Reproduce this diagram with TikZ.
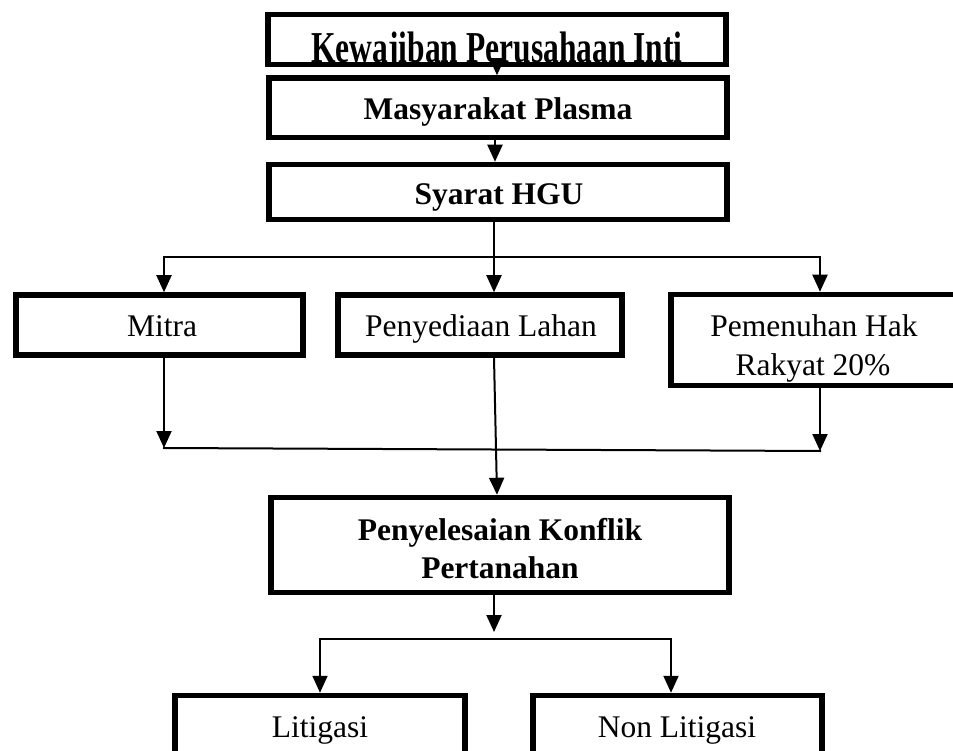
\documentclass[tikz,border=0pt]{standalone}
\usepackage{graphicx}
\usepackage{fontspec}
\setmainfont{Liberation Serif}
\usetikzlibrary{arrows.meta}
\begin{document}
\begin{tikzpicture}[x=1pt,y=-1pt,
  box/.style={draw,line width=5.5pt,inner sep=0pt},
  txt/.style={font=\fontsize{31.5}{38}\selectfont,inner sep=0pt,anchor=base},
  btxt/.style={font=\fontsize{31.5}{38}\selectfont\bfseries,inner sep=0pt,anchor=base},
  ln/.style={line width=2pt,line cap=rect},
  arr/.style={line width=2pt,-{Triangle[width=15pt,length=17pt]}}]
\useasboundingbox (0,0) rectangle (953,751);
\clip (0,0) rectangle (953,751);
% top box with clipped, stretched text
\begin{scope}
  \clip (268,14.5) rectangle (726,64.5);
  \node[btxt] (kt) at (497,63) {\scalebox{1}[1.4]{Kewajiban Perusahaan Inti}};
\end{scope}
\node[box,minimum width=458,minimum height=50] (k) at (497,39.5) {};
\node[box,minimum width=458,minimum height=59.5] (m) at (498,107.75) {};
\node[btxt] (mt) at (498,120) {Masyarakat Plasma};
\node[box,minimum width=458,minimum height=55] (h) at (498,192) {};
\node[btxt] (ht) at (499,205) {Syarat HGU};
% middle row
\node[box,minimum width=287,minimum height=60] (mi) at (159.5,325) {};
\node[txt] (mit) at (162,337) {Mitra};
\node[box,minimum width=284,minimum height=60] (pl) at (480,325) {};
\node[txt] (plt) at (481,337) {Penyediaan Lahan};
\node[box,minimum width=329,minimum height=91] (pe) at (835.5,340) {};
\node[txt] (pet1) at (814,337) {Pemenuhan Hak};
\node[txt] (pet2) at (813,375) {Rakyat 20\%};
% conflict box
\node[box,minimum width=458,minimum height=95] (pk) at (500,545) {};
\node[btxt] (pkt1) at (500,540) {Penyelesaian Konflik};
\node[btxt] (pkt2) at (500,578) {Pertanahan};
% bottom boxes
\node[box,minimum width=290,minimum height=129] (li) at (320,760) {};
\node[txt] (lit) at (320,737) {Litigasi};
\node[box,minimum width=289,minimum height=129] (nl) at (677.5,760) {};
\node[txt] (nlt) at (677,737) {Non Litigasi};
% connectors top
\draw[arr] (k.south) -- (k.south |- m.north);
\draw[arr] ([xshift=-3pt]m.south) -- ([xshift=-3pt]h.north);
\coordinate (j1) at (494,257);
\coordinate (jl) at (164,257);
\coordinate (jr) at (820,257);
\draw[ln] (h.south -| j1) -- (j1);
\draw[ln] (jl) -- (jr);
\draw[arr] (jl) -- (jl |- mi.north);
\draw[arr] (j1) -- (j1 |- pl.north);
\draw[arr] (jr) -- (jr |- pe.north);
% connectors middle
\coordinate (bl) at (164,448);
\coordinate (br) at (820,451);
\draw[arr] (mi.south -| bl) -- (bl);
\draw[arr] (pe.south -| br) -- (br);
\draw[ln] (bl) -- (br);
\draw[arr] ([xshift=14pt]pl.south) -- ([xshift=-3pt]pk.north);
% connectors bottom
\coordinate (bp) at (494,632);
\draw[arr] (pk.south -| bp) -- (bp);
\coordinate (ll) at (320,639);
\coordinate (lr) at (671,639);
\draw[ln] (ll) -- (lr);
\draw[arr] (ll) -- (ll |- li.north);
\draw[arr] (lr) -- (lr |- nl.north);
\end{tikzpicture}
\end{document}
